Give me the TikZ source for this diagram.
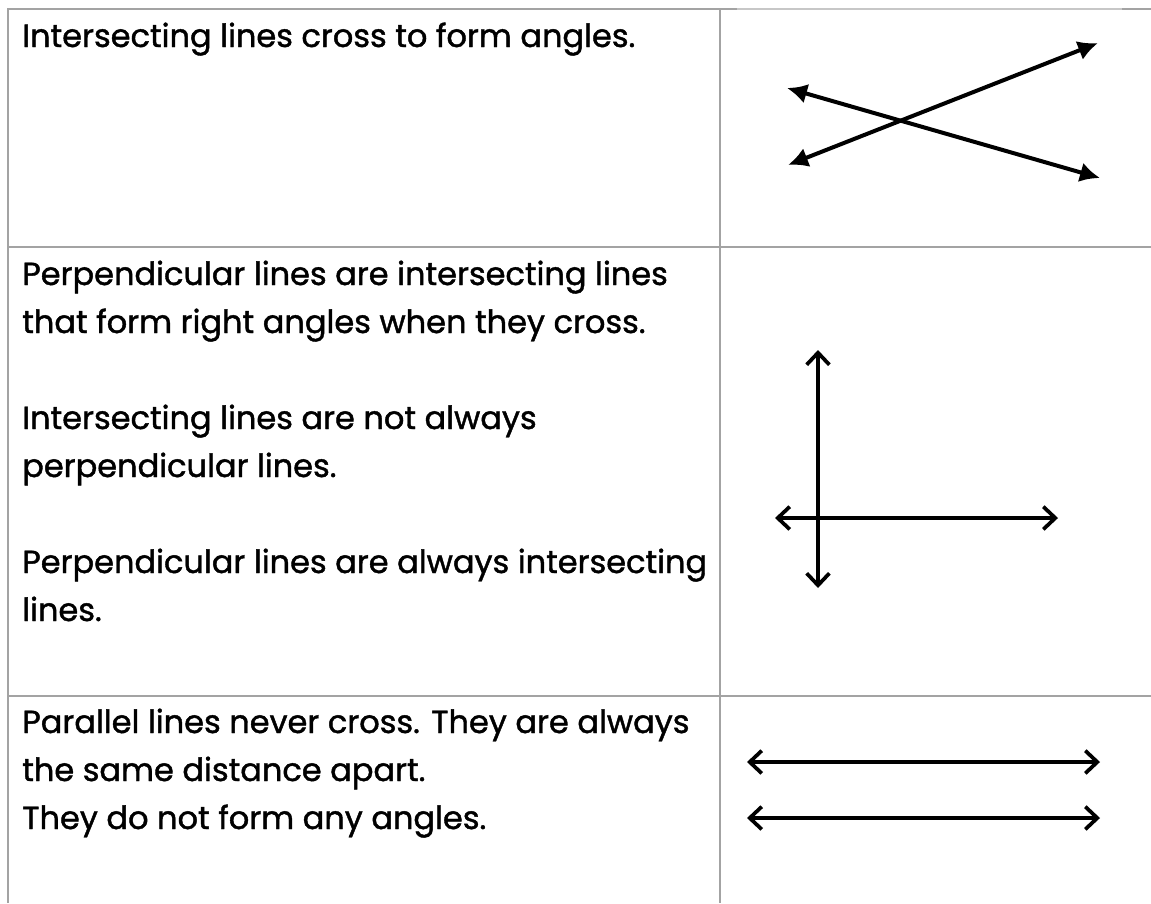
\documentclass[tikz,border=0pt]{standalone}
\usepackage{fontspec}
\setmainfont{Poppins}
\newfontfamily\cellfont{Poppins}[FakeBold=1.3]
\usetikzlibrary{arrows.meta,positioning}

\begin{document}
\begin{tikzpicture}[
  x=0.75pt, y=-0.75pt,
  rule/.style={draw=black!36, line width=1.5pt},
  cell/.style={anchor=base west, inner sep=0pt, align=left,
               font=\cellfont\fontsize{24}{36}\selectfont},
  filledarr/.style={{Latex[length=15pt,width=15pt]}-{Latex[length=15pt,width=15pt]},
                    line width=3pt},
  barbarr/.style={{Straight Barb[length=9pt,width=17pt]}-{Straight Barb[length=9pt,width=17pt]},
                  line width=2.8pt}
]
\useasboundingbox (0,0) rectangle (1151,903);

% table rules
\draw[rule] (8,903) -- (8,9) -- (737,9);
\draw[draw=black!22, line width=1pt] (737,9) -- (1122,9);
\draw[rule] (1122,9) -- (1151,9);
\draw[rule] (720,9) -- (720,903);
\draw[rule] (8,247) -- (1151,247);
\draw[rule] (8,696) -- (1151,696);

% left column (anchored on the last line)
\node[cell] (intersect) at (22,47) {Intersecting lines cross to form angles.};
\node[cell] (perpend) at (22,621) {Perpendicular lines are intersecting lines\\
  that form right angles when they cross.\\[36pt]
  Intersecting lines are not always\\
  perpendicular lines.\\[36pt]
  Perpendicular lines are always intersecting\\
  lines.};
\node[cell] (parallel) at (22,829) {Parallel lines never cross. They are always\\
  the same distance apart.\\
  They do not form any angles.};

% right column: intersecting
\coordinate (upA) at (1098,43);
\coordinate (lowA) at (788,165);
\coordinate (upB) at (787,88);
\coordinate (lowB) at (1100,178);
\draw[filledarr] (lowA) -- (upA);
\draw[filledarr] (upB) -- (lowB);

% right column: perpendicular
\coordinate (vtop) at (818,350);
\coordinate (vbot) at (818,588);
\coordinate (hleft) at (775,518);
\coordinate (hright) at (1058,518);
\draw[barbarr] (vtop) -- (vbot);
\draw[barbarr] (hleft) -- (hright);

% right column: parallel
\coordinate (pa-w) at (747,762);
\coordinate (pa-e) at (1100,762);
\coordinate (pb-w) at (747,818);
\coordinate (pb-e) at (1100,818);
\draw[barbarr] (pa-w) -- (pa-e);
\draw[barbarr] (pb-w) -- (pb-e);
\end{tikzpicture}
\end{document}
